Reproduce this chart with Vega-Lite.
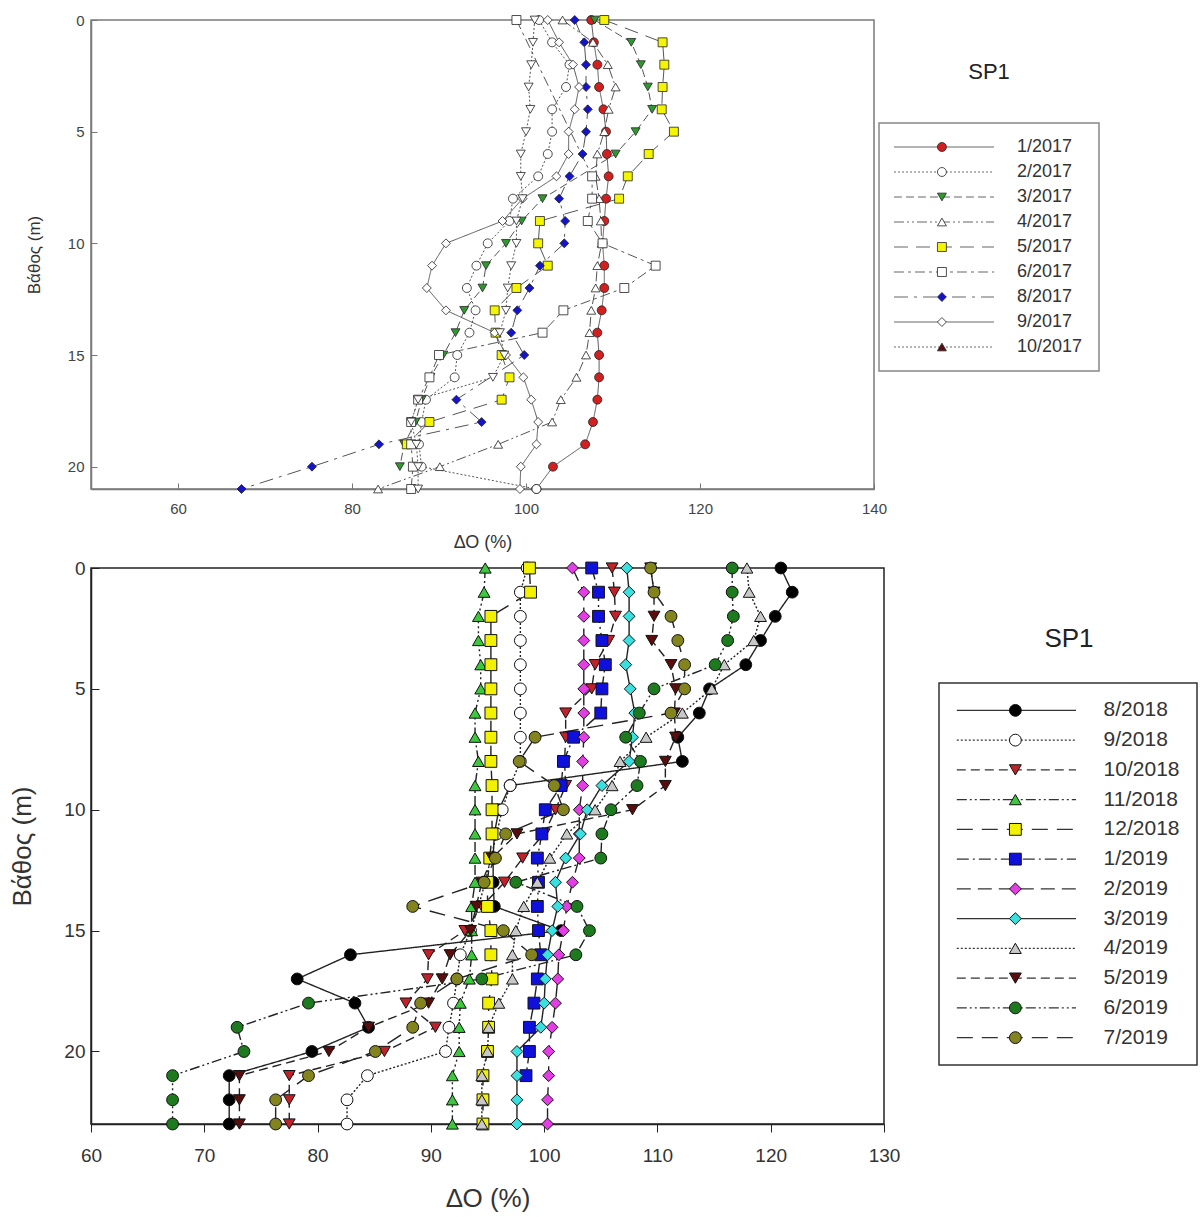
{
"$schema": "https://vega.github.io/schema/vega-lite/v6.json",
"background": "white",
"autosize": {"type": "pad"},
"padding": {"left": 9, "top": 12, "right": 0, "bottom": 0},
"config": {"font": "Liberation Sans", "view": {"stroke": null}, "legend": {"disable": true}, "axis": {"grid": false}},
"datasets": {
"top": [
{"s":"1/2017","d":0,"v":107.5},{"s":"1/2017","d":1,"v":107.8},{"s":"1/2017","d":2,"v":108.2},{"s":"1/2017","d":3,"v":108.4},{"s":"1/2017","d":4,"v":108.9},{"s":"1/2017","d":5,"v":109.2},{"s":"1/2017","d":6,"v":109.3},{"s":"1/2017","d":7,"v":109.5},{"s":"1/2017","d":8,"v":109.2},{"s":"1/2017","d":9,"v":109.0},{"s":"1/2017","d":10,"v":108.8},{"s":"1/2017","d":11,"v":109.0},{"s":"1/2017","d":12,"v":109.0},{"s":"1/2017","d":13,"v":108.7},{"s":"1/2017","d":14,"v":108.2},{"s":"1/2017","d":15,"v":108.4},{"s":"1/2017","d":16,"v":108.4},{"s":"1/2017","d":17,"v":108.2},{"s":"1/2017","d":18,"v":107.7},{"s":"1/2017","d":19,"v":106.8},{"s":"1/2017","d":20,"v":103.1},{"s":"1/2017","d":21,"v":101.2},
{"s":"2/2017","d":0,"v":101.5},{"s":"2/2017","d":1,"v":103.0},{"s":"2/2017","d":2,"v":105.0},{"s":"2/2017","d":3,"v":104.6},{"s":"2/2017","d":4,"v":103.0},{"s":"2/2017","d":5,"v":103.0},{"s":"2/2017","d":6,"v":102.5},{"s":"2/2017","d":7,"v":101.4},{"s":"2/2017","d":8,"v":98.5},{"s":"2/2017","d":9,"v":98.1},{"s":"2/2017","d":10,"v":95.6},{"s":"2/2017","d":11,"v":94.3},{"s":"2/2017","d":12,"v":93.2},{"s":"2/2017","d":13,"v":94.2},{"s":"2/2017","d":14,"v":93.5},{"s":"2/2017","d":15,"v":92.1},{"s":"2/2017","d":16,"v":91.8},{"s":"2/2017","d":17,"v":88.5},{"s":"2/2017","d":18,"v":88.0},{"s":"2/2017","d":19,"v":87.7},{"s":"2/2017","d":20,"v":88.0},{"s":"2/2017","d":21,"v":101.2},
{"s":"3/2017","d":0,"v":107.9},{"s":"3/2017","d":1,"v":112.1},{"s":"3/2017","d":2,"v":113.2},{"s":"3/2017","d":3,"v":114.0},{"s":"3/2017","d":4,"v":114.5},{"s":"3/2017","d":5,"v":112.6},{"s":"3/2017","d":6,"v":110.3},{"s":"3/2017","d":8,"v":101.9},{"s":"3/2017","d":9,"v":99.5},{"s":"3/2017","d":10,"v":97.7},{"s":"3/2017","d":11,"v":95.4},{"s":"3/2017","d":12,"v":95.0},{"s":"3/2017","d":13,"v":92.9},{"s":"3/2017","d":14,"v":91.9},{"s":"3/2017","d":15,"v":90.5},{"s":"3/2017","d":16,"v":89.0},{"s":"3/2017","d":17,"v":88.0},{"s":"3/2017","d":18,"v":87.3},{"s":"3/2017","d":19,"v":86.0},{"s":"3/2017","d":20,"v":85.5},
{"s":"4/2017","d":0,"v":104.2},{"s":"4/2017","d":1,"v":107.7},{"s":"4/2017","d":2,"v":109.4},{"s":"4/2017","d":3,"v":110.3},{"s":"4/2017","d":4,"v":109.5},{"s":"4/2017","d":5,"v":109.0},{"s":"4/2017","d":6,"v":108.2},{"s":"4/2017","d":7,"v":108.0},{"s":"4/2017","d":8,"v":108.4},{"s":"4/2017","d":9,"v":108.6},{"s":"4/2017","d":10,"v":108.7},{"s":"4/2017","d":11,"v":108.2},{"s":"4/2017","d":12,"v":108.0},{"s":"4/2017","d":13,"v":107.5},{"s":"4/2017","d":14,"v":107.3},{"s":"4/2017","d":15,"v":106.9},{"s":"4/2017","d":16,"v":105.8},{"s":"4/2017","d":17,"v":104.0},{"s":"4/2017","d":18,"v":103.0},{"s":"4/2017","d":19,"v":96.8},{"s":"4/2017","d":20,"v":90.1},{"s":"4/2017","d":21,"v":83.0},
{"s":"5/2017","d":0,"v":109.0},{"s":"5/2017","d":1,"v":115.7},{"s":"5/2017","d":2,"v":115.9},{"s":"5/2017","d":3,"v":115.7},{"s":"5/2017","d":4,"v":115.6},{"s":"5/2017","d":5,"v":117.0},{"s":"5/2017","d":6,"v":114.1},{"s":"5/2017","d":7,"v":111.7},{"s":"5/2017","d":8,"v":110.7},{"s":"5/2017","d":9,"v":101.6},{"s":"5/2017","d":10,"v":101.4},{"s":"5/2017","d":11,"v":102.5},{"s":"5/2017","d":12,"v":98.9},{"s":"5/2017","d":13,"v":96.4},{"s":"5/2017","d":14,"v":96.5},{"s":"5/2017","d":15,"v":97.2},{"s":"5/2017","d":16,"v":98.1},{"s":"5/2017","d":17,"v":97.2},{"s":"5/2017","d":18,"v":88.9},{"s":"5/2017","d":19,"v":86.3},
{"s":"6/2017","d":0,"v":98.9},{"s":"6/2017","d":7,"v":107.6},{"s":"6/2017","d":8,"v":107.6},{"s":"6/2017","d":9,"v":107.1},{"s":"6/2017","d":10,"v":108.8},{"s":"6/2017","d":11,"v":114.9},{"s":"6/2017","d":12,"v":111.3},{"s":"6/2017","d":13,"v":104.3},{"s":"6/2017","d":14,"v":101.9},{"s":"6/2017","d":15,"v":90.0},{"s":"6/2017","d":16,"v":88.9},{"s":"6/2017","d":17,"v":87.6},{"s":"6/2017","d":18,"v":86.8},{"s":"6/2017","d":19,"v":86.8},{"s":"6/2017","d":20,"v":87.0},{"s":"6/2017","d":21,"v":86.8},
{"s":"8/2017","d":0,"v":105.6},{"s":"8/2017","d":1,"v":106.7},{"s":"8/2017","d":2,"v":106.9},{"s":"8/2017","d":3,"v":106.9},{"s":"8/2017","d":4,"v":107.1},{"s":"8/2017","d":5,"v":106.9},{"s":"8/2017","d":6,"v":106.5},{"s":"8/2017","d":7,"v":105.0},{"s":"8/2017","d":8,"v":103.8},{"s":"8/2017","d":9,"v":104.5},{"s":"8/2017","d":10,"v":104.4},{"s":"8/2017","d":11,"v":101.6},{"s":"8/2017","d":12,"v":100.4},{"s":"8/2017","d":13,"v":99.0},{"s":"8/2017","d":14,"v":98.3},{"s":"8/2017","d":15,"v":99.8},{"s":"8/2017","d":17,"v":92.0},{"s":"8/2017","d":18,"v":94.9},{"s":"8/2017","d":19,"v":83.1},{"s":"8/2017","d":20,"v":75.4},{"s":"8/2017","d":21,"v":67.3},
{"s":"9/2017","d":0,"v":102.5},{"s":"9/2017","d":1,"v":103.8},{"s":"9/2017","d":2,"v":105.4},{"s":"9/2017","d":3,"v":106.1},{"s":"9/2017","d":4,"v":105.6},{"s":"9/2017","d":5,"v":104.9},{"s":"9/2017","d":6,"v":104.9},{"s":"9/2017","d":7,"v":103.5},{"s":"9/2017","d":8,"v":99.6},{"s":"9/2017","d":9,"v":97.3},{"s":"9/2017","d":10,"v":90.8},{"s":"9/2017","d":11,"v":89.2},{"s":"9/2017","d":12,"v":88.6},{"s":"9/2017","d":13,"v":90.8},{"s":"9/2017","d":14,"v":96.4},{"s":"9/2017","d":15,"v":97.7},{"s":"9/2017","d":16,"v":99.7},{"s":"9/2017","d":17,"v":100.6},{"s":"9/2017","d":18,"v":101.4},{"s":"9/2017","d":19,"v":101.2},{"s":"9/2017","d":20,"v":99.4},{"s":"9/2017","d":21,"v":99.3},
{"s":"10/2017","d":0,"v":101.0},{"s":"10/2017","d":1,"v":100.8},{"s":"10/2017","d":2,"v":100.6},{"s":"10/2017","d":3,"v":100.3},{"s":"10/2017","d":4,"v":100.5},{"s":"10/2017","d":5,"v":100.0},{"s":"10/2017","d":6,"v":99.4},{"s":"10/2017","d":7,"v":99.4},{"s":"10/2017","d":8,"v":99.6},{"s":"10/2017","d":9,"v":98.9},{"s":"10/2017","d":10,"v":98.9},{"s":"10/2017","d":11,"v":98.3},{"s":"10/2017","d":12,"v":97.9},{"s":"10/2017","d":13,"v":97.7},{"s":"10/2017","d":14,"v":97.0},{"s":"10/2017","d":15,"v":97.5},{"s":"10/2017","d":16,"v":96.2},{"s":"10/2017","d":17,"v":87.6},{"s":"10/2017","d":18,"v":86.8},{"s":"10/2017","d":19,"v":87.4},{"s":"10/2017","d":20,"v":87.6},{"s":"10/2017","d":21,"v":87.6}
],
"bot": [
{"s":"8/2018","d":0,"v":120.9},{"s":"8/2018","d":1,"v":121.9},{"s":"8/2018","d":2,"v":120.4},{"s":"8/2018","d":3,"v":119.1},{"s":"8/2018","d":4,"v":117.8},{"s":"8/2018","d":5,"v":114.6},{"s":"8/2018","d":6,"v":113.7},{"s":"8/2018","d":7,"v":111.8},{"s":"8/2018","d":8,"v":112.2},{"s":"8/2018","d":9,"v":97.0},{"s":"8/2018","d":10,"v":96.0},{"s":"8/2018","d":11,"v":95.6},{"s":"8/2018","d":12,"v":95.5},{"s":"8/2018","d":13,"v":95.5},{"s":"8/2018","d":14,"v":95.6},{"s":"8/2018","d":15,"v":101.5},{"s":"8/2018","d":16,"v":82.9},{"s":"8/2018","d":17,"v":78.2},{"s":"8/2018","d":18,"v":83.3},{"s":"8/2018","d":19,"v":84.5},{"s":"8/2018","d":20,"v":79.5},{"s":"8/2018","d":21,"v":72.2},{"s":"8/2018","d":22,"v":72.2},{"s":"8/2018","d":23,"v":72.2},
{"s":"9/2018","d":0,"v":98.5},{"s":"9/2018","d":1,"v":97.9},{"s":"9/2018","d":2,"v":97.9},{"s":"9/2018","d":3,"v":97.9},{"s":"9/2018","d":4,"v":97.9},{"s":"9/2018","d":5,"v":97.9},{"s":"9/2018","d":6,"v":97.9},{"s":"9/2018","d":7,"v":97.9},{"s":"9/2018","d":8,"v":97.9},{"s":"9/2018","d":9,"v":97.0},{"s":"9/2018","d":10,"v":96.3},{"s":"9/2018","d":11,"v":95.8},{"s":"9/2018","d":12,"v":95.3},{"s":"9/2018","d":13,"v":94.8},{"s":"9/2018","d":14,"v":94.2},{"s":"9/2018","d":15,"v":93.5},{"s":"9/2018","d":16,"v":92.6},{"s":"9/2018","d":17,"v":92.3},{"s":"9/2018","d":18,"v":92.0},{"s":"9/2018","d":19,"v":91.6},{"s":"9/2018","d":20,"v":91.3},{"s":"9/2018","d":21,"v":84.4},{"s":"9/2018","d":22,"v":82.6},{"s":"9/2018","d":23,"v":82.6},
{"s":"10/2018","d":0,"v":106.0},{"s":"10/2018","d":1,"v":106.2},{"s":"10/2018","d":2,"v":106.3},{"s":"10/2018","d":3,"v":105.7},{"s":"10/2018","d":4,"v":104.5},{"s":"10/2018","d":5,"v":104.2},{"s":"10/2018","d":6,"v":101.9},{"s":"10/2018","d":7,"v":101.9},{"s":"10/2018","d":8,"v":101.8},{"s":"10/2018","d":9,"v":101.9},{"s":"10/2018","d":10,"v":101.0},{"s":"10/2018","d":11,"v":100.0},{"s":"10/2018","d":12,"v":98.1},{"s":"10/2018","d":13,"v":96.5},{"s":"10/2018","d":14,"v":94.5},{"s":"10/2018","d":15,"v":93.0},{"s":"10/2018","d":16,"v":89.8},{"s":"10/2018","d":17,"v":89.7},{"s":"10/2018","d":18,"v":87.8},{"s":"10/2018","d":19,"v":90.4},{"s":"10/2018","d":20,"v":85.9},{"s":"10/2018","d":21,"v":77.5},{"s":"10/2018","d":22,"v":77.5},{"s":"10/2018","d":23,"v":77.5},
{"s":"11/2018","d":0,"v":94.8},{"s":"11/2018","d":1,"v":94.7},{"s":"11/2018","d":2,"v":94.2},{"s":"11/2018","d":3,"v":94.2},{"s":"11/2018","d":4,"v":94.4},{"s":"11/2018","d":5,"v":94.4},{"s":"11/2018","d":6,"v":93.9},{"s":"11/2018","d":7,"v":93.9},{"s":"11/2018","d":8,"v":94.2},{"s":"11/2018","d":9,"v":93.9},{"s":"11/2018","d":10,"v":93.9},{"s":"11/2018","d":11,"v":93.9},{"s":"11/2018","d":12,"v":93.9},{"s":"11/2018","d":13,"v":93.9},{"s":"11/2018","d":14,"v":93.6},{"s":"11/2018","d":15,"v":93.6},{"s":"11/2018","d":16,"v":93.6},{"s":"11/2018","d":17,"v":93.4},{"s":"11/2018","d":18,"v":92.6},{"s":"11/2018","d":19,"v":92.5},{"s":"11/2018","d":20,"v":92.5},{"s":"11/2018","d":21,"v":91.9},{"s":"11/2018","d":22,"v":91.9},{"s":"11/2018","d":23,"v":91.9},
{"s":"12/2018","d":0,"v":98.7},{"s":"12/2018","d":1,"v":98.8},{"s":"12/2018","d":2,"v":95.3},{"s":"12/2018","d":3,"v":95.3},{"s":"12/2018","d":4,"v":95.3},{"s":"12/2018","d":5,"v":95.3},{"s":"12/2018","d":6,"v":95.3},{"s":"12/2018","d":7,"v":95.3},{"s":"12/2018","d":8,"v":95.3},{"s":"12/2018","d":9,"v":95.4},{"s":"12/2018","d":10,"v":95.4},{"s":"12/2018","d":11,"v":95.4},{"s":"12/2018","d":12,"v":95.2},{"s":"12/2018","d":13,"v":95.0},{"s":"12/2018","d":14,"v":95.0},{"s":"12/2018","d":15,"v":95.3},{"s":"12/2018","d":16,"v":95.3},{"s":"12/2018","d":17,"v":95.4},{"s":"12/2018","d":18,"v":95.1},{"s":"12/2018","d":19,"v":95.1},{"s":"12/2018","d":20,"v":95.0},{"s":"12/2018","d":21,"v":94.6},{"s":"12/2018","d":22,"v":94.6},{"s":"12/2018","d":23,"v":94.6},
{"s":"1/2019","d":0,"v":104.2},{"s":"1/2019","d":1,"v":104.8},{"s":"1/2019","d":2,"v":104.8},{"s":"1/2019","d":3,"v":105.1},{"s":"1/2019","d":4,"v":105.4},{"s":"1/2019","d":5,"v":105.1},{"s":"1/2019","d":6,"v":105.0},{"s":"1/2019","d":7,"v":102.6},{"s":"1/2019","d":8,"v":101.7},{"s":"1/2019","d":9,"v":101.5},{"s":"1/2019","d":10,"v":100.1},{"s":"1/2019","d":11,"v":99.8},{"s":"1/2019","d":12,"v":99.4},{"s":"1/2019","d":13,"v":99.5},{"s":"1/2019","d":14,"v":99.4},{"s":"1/2019","d":15,"v":99.5},{"s":"1/2019","d":16,"v":99.7},{"s":"1/2019","d":17,"v":99.4},{"s":"1/2019","d":18,"v":99.1},{"s":"1/2019","d":19,"v":98.7},{"s":"1/2019","d":20,"v":98.7},{"s":"1/2019","d":21,"v":98.4},
{"s":"2/2019","d":0,"v":102.5},{"s":"2/2019","d":1,"v":103.5},{"s":"2/2019","d":2,"v":103.5},{"s":"2/2019","d":3,"v":103.5},{"s":"2/2019","d":4,"v":103.5},{"s":"2/2019","d":5,"v":103.5},{"s":"2/2019","d":6,"v":103.5},{"s":"2/2019","d":7,"v":103.5},{"s":"2/2019","d":8,"v":103.4},{"s":"2/2019","d":9,"v":103.4},{"s":"2/2019","d":10,"v":103.1},{"s":"2/2019","d":11,"v":103.1},{"s":"2/2019","d":12,"v":103.1},{"s":"2/2019","d":13,"v":102.5},{"s":"2/2019","d":14,"v":102.0},{"s":"2/2019","d":15,"v":101.7},{"s":"2/2019","d":16,"v":101.3},{"s":"2/2019","d":17,"v":101.2},{"s":"2/2019","d":18,"v":101.0},{"s":"2/2019","d":19,"v":100.7},{"s":"2/2019","d":20,"v":100.4},{"s":"2/2019","d":21,"v":100.4},{"s":"2/2019","d":22,"v":100.3},{"s":"2/2019","d":23,"v":100.3},
{"s":"3/2019","d":0,"v":107.3},{"s":"3/2019","d":1,"v":107.5},{"s":"3/2019","d":2,"v":107.5},{"s":"3/2019","d":3,"v":107.5},{"s":"3/2019","d":4,"v":107.2},{"s":"3/2019","d":5,"v":107.6},{"s":"3/2019","d":6,"v":108.0},{"s":"3/2019","d":7,"v":107.8},{"s":"3/2019","d":8,"v":107.5},{"s":"3/2019","d":9,"v":105.1},{"s":"3/2019","d":10,"v":103.8},{"s":"3/2019","d":11,"v":103.2},{"s":"3/2019","d":12,"v":101.9},{"s":"3/2019","d":13,"v":101.0},{"s":"3/2019","d":14,"v":101.2},{"s":"3/2019","d":15,"v":100.7},{"s":"3/2019","d":16,"v":100.3},{"s":"3/2019","d":17,"v":100.1},{"s":"3/2019","d":18,"v":100.0},{"s":"3/2019","d":19,"v":99.7},{"s":"3/2019","d":20,"v":97.6},{"s":"3/2019","d":21,"v":97.6},{"s":"3/2019","d":22,"v":97.6},{"s":"3/2019","d":23,"v":97.6},
{"s":"4/2019","d":0,"v":117.9},{"s":"4/2019","d":1,"v":118.1},{"s":"4/2019","d":2,"v":119.1},{"s":"4/2019","d":3,"v":118.5},{"s":"4/2019","d":4,"v":115.9},{"s":"4/2019","d":5,"v":114.8},{"s":"4/2019","d":6,"v":112.2},{"s":"4/2019","d":7,"v":109.0},{"s":"4/2019","d":8,"v":106.7},{"s":"4/2019","d":9,"v":106.0},{"s":"4/2019","d":10,"v":104.5},{"s":"4/2019","d":11,"v":102.0},{"s":"4/2019","d":12,"v":100.5},{"s":"4/2019","d":13,"v":99.4},{"s":"4/2019","d":14,"v":98.2},{"s":"4/2019","d":15,"v":97.5},{"s":"4/2019","d":16,"v":97.2},{"s":"4/2019","d":17,"v":97.2},{"s":"4/2019","d":18,"v":96.0},{"s":"4/2019","d":19,"v":95.1},{"s":"4/2019","d":20,"v":95.0},{"s":"4/2019","d":21,"v":94.5},{"s":"4/2019","d":22,"v":94.5},{"s":"4/2019","d":23,"v":94.5},
{"s":"5/2019","d":0,"v":109.4},{"s":"5/2019","d":1,"v":109.7},{"s":"5/2019","d":2,"v":109.7},{"s":"5/2019","d":3,"v":109.5},{"s":"5/2019","d":4,"v":111.2},{"s":"5/2019","d":5,"v":111.6},{"s":"5/2019","d":6,"v":111.5},{"s":"5/2019","d":7,"v":111.6},{"s":"5/2019","d":8,"v":110.7},{"s":"5/2019","d":9,"v":110.7},{"s":"5/2019","d":10,"v":107.8},{"s":"5/2019","d":11,"v":97.6},{"s":"5/2019","d":12,"v":95.4},{"s":"5/2019","d":13,"v":94.5},{"s":"5/2019","d":14,"v":94.0},{"s":"5/2019","d":15,"v":93.5},{"s":"5/2019","d":16,"v":91.7},{"s":"5/2019","d":17,"v":91.0},{"s":"5/2019","d":18,"v":89.8},{"s":"5/2019","d":19,"v":84.5},{"s":"5/2019","d":20,"v":81.0},{"s":"5/2019","d":21,"v":73.1},{"s":"5/2019","d":22,"v":73.1},{"s":"5/2019","d":23,"v":73.1},
{"s":"6/2019","d":0,"v":116.6},{"s":"6/2019","d":1,"v":116.6},{"s":"6/2019","d":2,"v":116.7},{"s":"6/2019","d":3,"v":116.2},{"s":"6/2019","d":4,"v":115.1},{"s":"6/2019","d":5,"v":109.7},{"s":"6/2019","d":6,"v":108.4},{"s":"6/2019","d":7,"v":107.2},{"s":"6/2019","d":8,"v":108.5},{"s":"6/2019","d":9,"v":108.2},{"s":"6/2019","d":10,"v":105.9},{"s":"6/2019","d":11,"v":105.1},{"s":"6/2019","d":12,"v":105.0},{"s":"6/2019","d":13,"v":97.5},{"s":"6/2019","d":14,"v":102.9},{"s":"6/2019","d":15,"v":104.0},{"s":"6/2019","d":16,"v":102.8},{"s":"6/2019","d":17,"v":94.5},{"s":"6/2019","d":18,"v":79.2},{"s":"6/2019","d":19,"v":72.9},{"s":"6/2019","d":20,"v":73.5},{"s":"6/2019","d":21,"v":67.2},{"s":"6/2019","d":22,"v":67.2},{"s":"6/2019","d":23,"v":67.2},
{"s":"7/2019","d":0,"v":109.4},{"s":"7/2019","d":1,"v":109.7},{"s":"7/2019","d":2,"v":111.2},{"s":"7/2019","d":3,"v":111.8},{"s":"7/2019","d":4,"v":112.4},{"s":"7/2019","d":5,"v":112.4},{"s":"7/2019","d":6,"v":111.2},{"s":"7/2019","d":7,"v":99.2},{"s":"7/2019","d":8,"v":97.8},{"s":"7/2019","d":9,"v":100.9},{"s":"7/2019","d":10,"v":101.7},{"s":"7/2019","d":11,"v":96.6},{"s":"7/2019","d":12,"v":95.7},{"s":"7/2019","d":13,"v":94.7},{"s":"7/2019","d":14,"v":88.4},{"s":"7/2019","d":15,"v":96.4},{"s":"7/2019","d":16,"v":98.9},{"s":"7/2019","d":17,"v":92.3},{"s":"7/2019","d":18,"v":89.1},{"s":"7/2019","d":19,"v":88.4},{"s":"7/2019","d":20,"v":85.1},{"s":"7/2019","d":21,"v":79.2},{"s":"7/2019","d":22,"v":76.3},{"s":"7/2019","d":23,"v":76.3}
],
"ltop": [{"s":"1/2017"},{"s":"2/2017"},{"s":"3/2017"},{"s":"4/2017"},{"s":"5/2017"},{"s":"6/2017"},{"s":"8/2017"},{"s":"9/2017"},{"s":"10/2017"}],
"lbot": [{"s":"8/2018"},{"s":"9/2018"},{"s":"10/2018"},{"s":"11/2018"},{"s":"12/2018"},{"s":"1/2019"},{"s":"2/2019"},{"s":"3/2019"},{"s":"4/2019"},{"s":"5/2019"},{"s":"6/2019"},{"s":"7/2019"}]
},
"resolve": {"scale": {"shape": "independent", "fill": "independent", "strokeDash": "independent", "color": "independent"}},
"bounds": "flush",
"spacing": 548,
"vconcat": [
{
"bounds": "flush",
"spacing": 5,
"resolve": {"scale": {"shape": "independent", "fill": "independent", "strokeDash": "independent", "color": "independent"}},
"hconcat": [
{
"width": 783, "height": 469,
"view": {"stroke": "#7a7a7a", "strokeWidth": 1.5},
"data": {"name": "top"},
"layer": [
{"mark": {"type": "line", "strokeWidth": 1, "color": "#555555"},
"encoding": {
"x": {"field": "v", "type": "quantitative", "scale": {"domain": [50, 140], "nice": false, "zero": false},
"axis": {"title": "ΔΟ (%)", "values": [60, 80, 100, 120, 140], "tickSize": -6, "tickColor": "#777777", "domainColor": "#7a7a7a", "domainWidth": 1.5, "labelFontSize": 15, "labelColor": "#444444", "labelPadding": 18, "labelFlush": false, "titleFontSize": 18, "titleFontWeight": "normal", "titleColor": "#333333", "titlePadding": 17}},
"y": {"field": "d", "type": "quantitative", "scale": {"domain": [0, 21], "reverse": true, "nice": false, "zero": false},
"axis": {"title": "Βάθος (m)", "values": [0, 5, 10, 15, 20], "tickSize": -6, "tickColor": "#777777", "domainColor": "#7a7a7a", "domainWidth": 1.5, "labelFontSize": 15, "labelColor": "#444444", "labelPadding": 13, "titleFontSize": 17, "titleFontWeight": "normal", "titleColor": "#333333", "titlePadding": 24}},
"detail": {"field": "s", "type": "nominal"},
"order": {"field": "d", "type": "quantitative"},
"strokeDash": {"field": "s", "type": "nominal", "scale": {"domain": ["1/2017","2/2017","3/2017","4/2017","5/2017","6/2017","8/2017","9/2017","10/2017"], "range": [[1,0],[2,2],[8,4],[10,3,2,3,2,3],[14,8],[10,4,3,4],[14,6,3,6],[1,0],[2,2]]}}
}},
{"mark": {"type": "point", "filled": true, "size": 80, "stroke": "#222222", "strokeWidth": 0.8, "opacity": 1},
"encoding": {
"x": {"field": "v", "type": "quantitative"},
"y": {"field": "d", "type": "quantitative"},
"shape": {"field": "s", "type": "nominal", "scale": {"domain": ["1/2017","2/2017","3/2017","4/2017","5/2017","6/2017","8/2017","9/2017","10/2017"], "range": ["circle","circle","triangle-down","triangle-up","square","square","diamond","diamond","triangle-down"]}},
"fill": {"field": "s", "type": "nominal", "scale": {"domain": ["1/2017","2/2017","3/2017","4/2017","5/2017","6/2017","8/2017","9/2017","10/2017"], "range": ["#d21f1f","#ffffff","#2e9a2e","#ffffff","#f5f500","#ffffff","#1414c8","#ffffff","#ffffff"]}}
}}
]
},
{
"bounds": "flush",
"spacing": 0,
"vconcat": [
{"width": 220, "height": 103, "data": {"values": [{"t": "SP1"}]},
"mark": {"type": "text", "fontSize": 22, "color": "#222222", "align": "center", "baseline": "middle"},
"encoding": {"text": {"field": "t", "type": "nominal"}}},
{"width": 220, "height": 248,
"view": {"stroke": "#888888", "strokeWidth": 1.5},
"data": {"name": "ltop"},
"encoding": {"y": {"field": "s", "type": "nominal", "scale": {"type": "point", "domain": ["1/2017","2/2017","3/2017","4/2017","5/2017","6/2017","8/2017","9/2017","10/2017"], "padding": 0.96}, "axis": null}},
"layer": [
{"mark": {"type": "rule", "color": "#666666", "strokeWidth": 1.2},
"encoding": {"x": {"datum": 0.068, "type": "quantitative", "scale": {"domain": [0, 1], "nice": false, "zero": false}, "axis": null}, "x2": {"datum": 0.523},
"strokeDash": {"field": "s", "type": "nominal", "scale": {"domain": ["1/2017","2/2017","3/2017","4/2017","5/2017","6/2017","8/2017","9/2017","10/2017"], "range": [[1,0],[2,2],[8,4],[10,3,2,3,2,3],[14,8],[10,4,3,4],[14,6,3,6],[1,0],[2,2]]}}}},
{"mark": {"type": "point", "filled": true, "size": 80, "stroke": "#222222", "strokeWidth": 0.8, "opacity": 1},
"encoding": {"x": {"datum": 0.286, "type": "quantitative"},
"shape": {"field": "s", "type": "nominal", "scale": {"domain": ["1/2017","2/2017","3/2017","4/2017","5/2017","6/2017","8/2017","9/2017","10/2017"], "range": ["circle","circle","triangle-down","triangle-up","square","square","diamond","diamond","triangle-up"]}},
"fill": {"field": "s", "type": "nominal", "scale": {"domain": ["1/2017","2/2017","3/2017","4/2017","5/2017","6/2017","8/2017","9/2017","10/2017"], "range": ["#d21f1f","#ffffff","#2e9a2e","#ffffff","#f5f500","#ffffff","#1414c8","#ffffff","#5c0c0c"]}}}},
{"mark": {"type": "text", "align": "left", "baseline": "middle", "fontSize": 18, "color": "#333333"},
"encoding": {"x": {"datum": 0.627, "type": "quantitative"}, "text": {"field": "s", "type": "nominal"}}}
]
}
]
}
]
},
{
"bounds": "flush",
"spacing": 55,
"resolve": {"scale": {"shape": "independent", "fill": "independent", "strokeDash": "independent", "color": "independent"}},
"hconcat": [
{
"width": 793, "height": 556,
"view": {"stroke": "#222222", "strokeWidth": 1.5},
"data": {"name": "bot"},
"layer": [
{"mark": {"type": "line", "strokeWidth": 1.4, "color": "#222222"},
"encoding": {
"x": {"field": "v", "type": "quantitative", "scale": {"domain": [60, 130], "nice": false, "zero": false},
"axis": {"title": "ΔΟ (%)", "values": [60, 70, 80, 90, 100, 110, 120, 130], "tickSize": 8, "tickColor": "#222222", "domainColor": "#222222", "domainWidth": 1.5, "labelFontSize": 19, "labelColor": "#333333", "labelPadding": 14, "labelFlush": false, "titleFontSize": 26, "titleFontWeight": "normal", "titleColor": "#333333", "titlePadding": 20}},
"y": {"field": "d", "type": "quantitative", "scale": {"domain": [0, 23], "reverse": true, "nice": false, "zero": false},
"axis": {"title": "Βάθος (m)", "values": [0, 5, 10, 15, 20], "tickSize": -8, "tickColor": "#222222", "domainColor": "#222222", "domainWidth": 1.5, "labelFontSize": 19, "labelColor": "#333333", "labelPadding": 14, "titleFontSize": 26, "titleFontWeight": "normal", "titleColor": "#333333", "titlePadding": 28}},
"detail": {"field": "s", "type": "nominal"},
"order": {"field": "d", "type": "quantitative"},
"strokeDash": {"field": "s", "type": "nominal", "scale": {"domain": ["8/2018","9/2018","10/2018","11/2018","12/2018","1/2019","2/2019","3/2019","4/2019","5/2019","6/2019","7/2019"], "range": [[1,0],[2,2],[9,5],[10,3,2,3,2,3],[16,9],[12,4,2,4],[14,7],[1,0],[2,2],[9,5],[10,3,2,3,2,3],[16,9]]}}
}},
{"mark": {"type": "point", "filled": true, "size": 140, "stroke": "#111111", "strokeWidth": 1, "opacity": 1},
"encoding": {
"x": {"field": "v", "type": "quantitative"},
"y": {"field": "d", "type": "quantitative"},
"shape": {"field": "s", "type": "nominal", "scale": {"domain": ["8/2018","9/2018","10/2018","11/2018","12/2018","1/2019","2/2019","3/2019","4/2019","5/2019","6/2019","7/2019"], "range": ["circle","circle","triangle-down","triangle-up","square","square","diamond","diamond","triangle-up","triangle-down","circle","circle"]}},
"fill": {"field": "s", "type": "nominal", "scale": {"domain": ["8/2018","9/2018","10/2018","11/2018","12/2018","1/2019","2/2019","3/2019","4/2019","5/2019","6/2019","7/2019"], "range": ["#000000","#ffffff","#c0222a","#3cc83c","#f2f200","#1010dc","#e33ee3","#3ae0e0","#c8c8c8","#5a0d0d","#1e7a1e","#84841e"]}}
}}
]
},
{
"bounds": "flush",
"spacing": 0,
"vconcat": [
{"width": 260, "height": 115, "data": {"values": [{"t": "SP1"}]},
"mark": {"type": "text", "fontSize": 26, "color": "#222222", "align": "center", "baseline": "top"},
"encoding": {"text": {"field": "t", "type": "nominal"}}},
{"width": 258, "height": 382,
"view": {"stroke": "#333333", "strokeWidth": 1.5},
"data": {"name": "lbot"},
"encoding": {"y": {"field": "s", "type": "nominal", "scale": {"type": "point", "domain": ["8/2018","9/2018","10/2018","11/2018","12/2018","1/2019","2/2019","3/2019","4/2019","5/2019","6/2019","7/2019"], "padding": 0.92}, "axis": null}},
"layer": [
{"mark": {"type": "rule", "color": "#333333", "strokeWidth": 1.4},
"encoding": {"x": {"datum": 0.069, "type": "quantitative", "scale": {"domain": [0, 1], "nice": false, "zero": false}, "axis": null}, "x2": {"datum": 0.531},
"strokeDash": {"field": "s", "type": "nominal", "scale": {"domain": ["8/2018","9/2018","10/2018","11/2018","12/2018","1/2019","2/2019","3/2019","4/2019","5/2019","6/2019","7/2019"], "range": [[1,0],[2,2],[9,5],[10,3,2,3,2,3],[16,9],[12,4,2,4],[14,7],[1,0],[2,2],[9,5],[10,3,2,3,2,3],[16,9]]}}}},
{"mark": {"type": "point", "filled": true, "size": 140, "stroke": "#111111", "strokeWidth": 1, "opacity": 1},
"encoding": {"x": {"datum": 0.296, "type": "quantitative"},
"shape": {"field": "s", "type": "nominal", "scale": {"domain": ["8/2018","9/2018","10/2018","11/2018","12/2018","1/2019","2/2019","3/2019","4/2019","5/2019","6/2019","7/2019"], "range": ["circle","circle","triangle-down","triangle-up","square","square","diamond","diamond","triangle-up","triangle-down","circle","circle"]}},
"fill": {"field": "s", "type": "nominal", "scale": {"domain": ["8/2018","9/2018","10/2018","11/2018","12/2018","1/2019","2/2019","3/2019","4/2019","5/2019","6/2019","7/2019"], "range": ["#000000","#ffffff","#c0222a","#3cc83c","#f2f200","#1010dc","#e33ee3","#3ae0e0","#c8c8c8","#5a0d0d","#1e7a1e","#84841e"]}}}},
{"mark": {"type": "text", "align": "left", "baseline": "middle", "fontSize": 21, "color": "#333333"},
"encoding": {"x": {"datum": 0.638, "type": "quantitative"}, "text": {"field": "s", "type": "nominal"}}}
]
}
]
}
]
}
]
}
